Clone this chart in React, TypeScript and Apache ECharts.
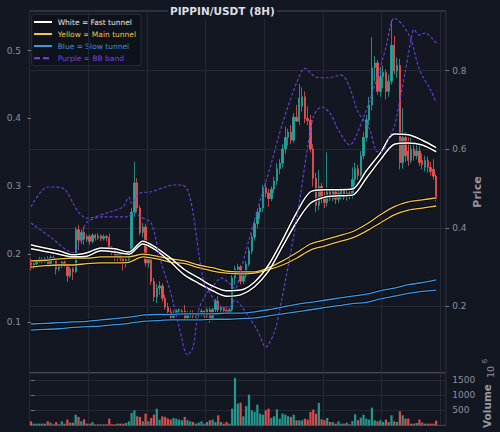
import React, { useEffect, useRef } from "react";
import * as echarts from "echarts";

// ---- data ----
// each candle: [open, high, low, close]
const OHLC: [number, number, number, number][] = [
  [0.188, 0.194, 0.176, 0.180], [0.180, 0.189, 0.178, 0.186], [0.186, 0.193, 0.183, 0.190], [0.190, 0.196, 0.187, 0.192],
  [0.192, 0.195, 0.186, 0.189], [0.189, 0.196, 0.187, 0.193], [0.193, 0.197, 0.184, 0.186], [0.186, 0.198, 0.185, 0.195],
  [0.195, 0.198, 0.189, 0.192], [0.192, 0.194, 0.170, 0.178], [0.178, 0.186, 0.175, 0.182], [0.182, 0.190, 0.179, 0.188],
  [0.188, 0.191, 0.181, 0.184], [0.184, 0.186, 0.159, 0.168], [0.168, 0.181, 0.165, 0.178], [0.178, 0.181, 0.162, 0.174],
  [0.174, 0.240, 0.172, 0.236], [0.236, 0.243, 0.206, 0.221], [0.221, 0.236, 0.215, 0.232], [0.232, 0.240, 0.214, 0.222],
  [0.222, 0.229, 0.218, 0.226], [0.226, 0.229, 0.214, 0.219], [0.219, 0.231, 0.216, 0.228], [0.228, 0.230, 0.220, 0.224],
  [0.224, 0.231, 0.221, 0.227], [0.227, 0.229, 0.219, 0.223], [0.223, 0.229, 0.220, 0.226], [0.226, 0.228, 0.219, 0.224],
  [0.224, 0.230, 0.205, 0.209], [0.209, 0.212, 0.198, 0.205], [0.205, 0.209, 0.190, 0.196], [0.196, 0.203, 0.188, 0.200],
  [0.200, 0.203, 0.186, 0.193], [0.193, 0.196, 0.176, 0.186], [0.186, 0.195, 0.180, 0.192], [0.192, 0.205, 0.188, 0.200],
  [0.200, 0.268, 0.198, 0.262], [0.262, 0.336, 0.255, 0.305], [0.305, 0.312, 0.262, 0.268], [0.268, 0.272, 0.228, 0.232],
  [0.232, 0.246, 0.225, 0.240], [0.240, 0.245, 0.182, 0.187], [0.187, 0.196, 0.180, 0.192], [0.192, 0.195, 0.155, 0.160],
  [0.160, 0.165, 0.130, 0.137], [0.137, 0.156, 0.128, 0.150], [0.150, 0.160, 0.140, 0.153], [0.153, 0.157, 0.130, 0.135],
  [0.135, 0.140, 0.118, 0.122], [0.122, 0.128, 0.110, 0.115], [0.115, 0.120, 0.103, 0.107], [0.107, 0.117, 0.104, 0.113],
  [0.113, 0.119, 0.109, 0.116], [0.116, 0.120, 0.111, 0.118], [0.112, 0.119, 0.109, 0.116], [0.116, 0.125, 0.103, 0.106],
  [0.106, 0.116, 0.103, 0.112], [0.112, 0.117, 0.107, 0.114], [0.114, 0.117, 0.105, 0.109], [0.109, 0.114, 0.106, 0.111],
  [0.111, 0.116, 0.107, 0.113], [0.113, 0.119, 0.108, 0.116], [0.116, 0.117, 0.105, 0.109], [0.109, 0.121, 0.106, 0.118],
  [0.118, 0.121, 0.099, 0.103], [0.103, 0.121, 0.101, 0.118], [0.118, 0.134, 0.114, 0.131], [0.131, 0.138, 0.114, 0.118],
  [0.118, 0.124, 0.112, 0.121], [0.121, 0.122, 0.113, 0.117], [0.117, 0.120, 0.111, 0.114], [0.114, 0.121, 0.111, 0.118],
  [0.118, 0.170, 0.114, 0.165], [0.165, 0.183, 0.155, 0.178], [0.178, 0.186, 0.170, 0.181], [0.181, 0.184, 0.155, 0.160],
  [0.160, 0.172, 0.156, 0.168], [0.168, 0.190, 0.165, 0.185], [0.185, 0.210, 0.182, 0.205], [0.205, 0.230, 0.200, 0.225],
  [0.225, 0.250, 0.220, 0.245], [0.245, 0.265, 0.238, 0.262], [0.262, 0.272, 0.252, 0.268], [0.268, 0.302, 0.262, 0.298],
  [0.298, 0.305, 0.284, 0.290], [0.290, 0.296, 0.270, 0.282], [0.282, 0.300, 0.278, 0.296], [0.296, 0.314, 0.290, 0.308],
  [0.308, 0.334, 0.302, 0.326], [0.326, 0.340, 0.318, 0.334], [0.334, 0.362, 0.328, 0.355], [0.355, 0.388, 0.348, 0.372],
  [0.372, 0.385, 0.360, 0.380], [0.380, 0.390, 0.362, 0.368], [0.368, 0.408, 0.364, 0.402], [0.402, 0.420, 0.395, 0.396],
  [0.396, 0.451, 0.390, 0.430], [0.418, 0.446, 0.410, 0.432], [0.432, 0.440, 0.393, 0.400], [0.400, 0.418, 0.390, 0.397],
  [0.397, 0.405, 0.350, 0.355], [0.355, 0.362, 0.300, 0.312], [0.312, 0.320, 0.262, 0.272], [0.272, 0.324, 0.265, 0.300],
  [0.300, 0.305, 0.275, 0.284], [0.284, 0.292, 0.268, 0.276], [0.276, 0.350, 0.270, 0.292], [0.292, 0.296, 0.278, 0.282],
  [0.282, 0.298, 0.278, 0.292], [0.292, 0.295, 0.274, 0.281], [0.281, 0.295, 0.276, 0.290], [0.286, 0.298, 0.281, 0.294],
  [0.294, 0.296, 0.280, 0.284], [0.284, 0.294, 0.279, 0.290], [0.290, 0.293, 0.281, 0.286], [0.286, 0.328, 0.282, 0.310],
  [0.310, 0.335, 0.300, 0.326], [0.326, 0.332, 0.310, 0.316], [0.316, 0.352, 0.312, 0.345], [0.345, 0.380, 0.340, 0.372],
  [0.372, 0.405, 0.366, 0.398], [0.398, 0.432, 0.390, 0.420], [0.420, 0.520, 0.412, 0.475], [0.475, 0.492, 0.455, 0.482],
  [0.482, 0.486, 0.435, 0.440], [0.440, 0.476, 0.432, 0.462], [0.462, 0.478, 0.445, 0.468], [0.468, 0.472, 0.428, 0.440],
  [0.440, 0.465, 0.432, 0.455], [0.455, 0.545, 0.450, 0.508], [0.508, 0.522, 0.465, 0.470], [0.470, 0.490, 0.460, 0.478],
  [0.478, 0.488, 0.325, 0.335], [0.335, 0.415, 0.326, 0.372], [0.372, 0.380, 0.336, 0.345], [0.352, 0.372, 0.330, 0.338],
  [0.338, 0.372, 0.334, 0.355], [0.355, 0.364, 0.338, 0.345], [0.345, 0.362, 0.340, 0.352], [0.352, 0.360, 0.330, 0.335],
  [0.338, 0.348, 0.325, 0.332], [0.328, 0.345, 0.322, 0.338], [0.338, 0.344, 0.320, 0.328], [0.328, 0.336, 0.316, 0.322],
  [0.325, 0.340, 0.310, 0.315], [0.315, 0.318, 0.278, 0.282],
];

// volume, in units of 10^6
const VOLUME: number[] = [
  133, 55, 55, 55, 55, 55, 133, 90, 33, 111,
  33, 133, 55, 190, 90, 90, 355, 280, 133, 200,
  55, 55, 111, 33, 33, 33, 33, 33, 222, 33,
  33, 55, 55, 55, 78, 133, 411, 500, 300, 278,
  133, 390, 133, 244, 355, 555, 190, 300, 278, 222,
  190, 244, 222, 190, 167, 278, 167, 133, 111, 55,
  90, 133, 55, 111, 167, 190, 111, 333, 111, 55,
  111, 55, 555, 1578, 722, 755, 300, 644, 1022, 500,
  444, 689, 389, 355, 500, 555, 244, 300, 533, 222,
  389, 355, 300, 278, 355, 167, 167, 167, 222, 190,
  444, 522, 389, 744, 200, 167, 244, 111, 111, 55,
  133, 55, 55, 90, 33, 144, 367, 167, 255, 355,
  222, 190, 589, 167, 133, 167, 111, 190, 111, 333,
  133, 111, 467, 333, 222, 222, 55, 55, 78, 190,
  90, 55, 55, 55, 55, 155,
];

// tunnel lines sampled at these candle indices
const TUNNEL_IDX: number[] = [
  0, 5, 10, 15, 20, 25, 30, 35, 40, 45, 50, 55, 60, 65, 70,
  75, 80, 85, 90, 95, 100, 105, 110, 115, 120, 125, 130, 135, 140, 145,
];
const WHITE_UP = [0.214, 0.209, 0.205, 0.199, 0.202, 0.209, 0.208, 0.203, 0.219, 0.209, 0.194, 0.177, 0.165, 0.153, 0.146, 0.147, 0.159, 0.184, 0.221, 0.261, 0.292, 0.295, 0.295, 0.296, 0.323, 0.349, 0.377, 0.376, 0.368, 0.357];
const WHITE_LO = [0.208, 0.204, 0.200, 0.196, 0.197, 0.205, 0.203, 0.200, 0.215, 0.205, 0.188, 0.169, 0.157, 0.146, 0.138, 0.140, 0.152, 0.175, 0.211, 0.247, 0.275, 0.284, 0.286, 0.287, 0.312, 0.339, 0.362, 0.364, 0.361, 0.351];
const YELLOW_UP = [0.190, 0.191, 0.193, 0.194, 0.194, 0.196, 0.196, 0.196, 0.200, 0.197, 0.193, 0.190, 0.184, 0.180, 0.175, 0.174, 0.174, 0.180, 0.190, 0.202, 0.215, 0.221, 0.227, 0.233, 0.244, 0.258, 0.270, 0.277, 0.280, 0.283];
const YELLOW_LO = [0.181, 0.183, 0.184, 0.184, 0.186, 0.187, 0.187, 0.188, 0.196, 0.193, 0.188, 0.186, 0.180, 0.175, 0.172, 0.171, 0.172, 0.177, 0.184, 0.194, 0.206, 0.212, 0.218, 0.224, 0.234, 0.246, 0.258, 0.265, 0.268, 0.271];
const BLUE_UP = [0.097, 0.098, 0.099, 0.100, 0.101, 0.103, 0.105, 0.107, 0.110, 0.111, 0.111, 0.112, 0.112, 0.112, 0.113, 0.113, 0.115, 0.118, 0.122, 0.126, 0.129, 0.132, 0.135, 0.138, 0.141, 0.146, 0.150, 0.155, 0.158, 0.162];
const BLUE_LO = [0.088, 0.089, 0.090, 0.092, 0.093, 0.094, 0.096, 0.098, 0.101, 0.102, 0.103, 0.103, 0.103, 0.104, 0.104, 0.105, 0.106, 0.109, 0.112, 0.115, 0.118, 0.121, 0.124, 0.127, 0.129, 0.134, 0.138, 0.142, 0.145, 0.147];

// Bollinger band lines: [candle index, value]
const BB_A: [number, number][] = [
  [0, 0.270], [6, 0.299], [11, 0.298], [17, 0.262], [20, 0.253], [28, 0.262], [33, 0.270], [35, 0.284],
  [36, 0.275], [39, 0.290], [43, 0.292], [48, 0.299], [51, 0.302], [54, 0.302], [56, 0.295], [58, 0.261],
  [60, 0.202], [62, 0.157], [64, 0.143], [66, 0.129], [68, 0.122], [71, 0.122], [73, 0.132], [75, 0.125],
  [78, 0.107], [81, 0.088], [84, 0.063], [87, 0.084], [89, 0.118], [95, 0.250], [101, 0.402], [104, 0.417],
  [107, 0.408], [110, 0.383], [114, 0.361], [119, 0.402], [124, 0.461], [127, 0.505], [130, 0.548], [133, 0.538],
  [136, 0.516], [139, 0.472], [143, 0.442], [145, 0.423],
];
const BB_B: [number, number][] = [
  [0, 0.246], [7, 0.225], [15, 0.202], [18, 0.224], [20, 0.247], [26, 0.255], [34, 0.255], [37, 0.261],
  [39, 0.255], [43, 0.246], [46, 0.196], [50, 0.143], [53, 0.093], [56, 0.051], [58, 0.063], [60, 0.118],
  [63, 0.143], [66, 0.157], [68, 0.165], [71, 0.157], [73, 0.149], [75, 0.174], [77, 0.206], [81, 0.265],
  [86, 0.334], [90, 0.393], [95, 0.452], [98, 0.474], [102, 0.461], [106, 0.460], [111, 0.464], [114, 0.446],
  [117, 0.410], [121, 0.386], [124, 0.351], [126, 0.352], [128, 0.370], [130, 0.388], [132, 0.427], [134, 0.471],
  [136, 0.516], [137, 0.531], [139, 0.523], [141, 0.526], [145, 0.511],
];

const LEFT_TICKS = [0.1, 0.2, 0.3, 0.4, 0.5];
const RIGHT_TICKS = [0.2, 0.4, 0.6, 0.8];
const VOL_TICKS = [500, 1000, 1500];
const TITLE = "PIPPIN/USDT (8H)";
const LEGEND_LABELS = ["White = Fast tunnel", "Yellow = Main tunnel", "Blue = Slow tunnel", "Purple = BB band"];

// ---- styles ----
const BG = "#131722";
const UP = "#26a69a";
const DOWN = "#ef5350";
const WHITE = "#ffffff";
const YELLOW = "#f5c542";
const BLUE = "#3a97e6";
const PURPLE = "#6a42dc";
const GRIDLINE = "#242935";
const SPINE = "#4a4e59";
const TICKTXT = "#8c909b";
const FONT = "DejaVu Sans";

const LEGEND_STYLE = [
  { line: WHITE, text: "#e8e8e8", dash: null as number[] | null },
  { line: YELLOW, text: "#f2c23a", dash: null },
  { line: BLUE, text: "#3b8fd9", dash: null },
  { line: "#7446e6", text: "#7446e0", dash: [6, 3] },
];

function roundTo(v: number, d: number) {
  const p = Math.pow(10, d);
  return Math.round(v * p) / p;
}

export default function App() {
  const ref = useRef<HTMLDivElement>(null);

  useEffect(() => {
    if (!ref.current) return;
    const chart = echarts.init(ref.current, undefined, { renderer: "svg" });

    const candleData = OHLC.map(([o, h, l, c], i) => [i, o, c, l, h]);
    const volData = VOLUME.map((v, i) => {
      const [o, , , c] = OHLC[i];
      return { value: [i, v], itemStyle: { color: c >= o ? UP : DOWN, opacity: 0.9 } };
    });
    const pairs = (arr: number[]) => TUNNEL_IDX.map((x, k) => [x, arr[k]]);

    const tunnel = (name: string, arr: number[], color: string, width: number) => [
      {
        name: name + "-outline",
        type: "line",
        xAxisIndex: 0,
        yAxisIndex: 0,
        data: pairs(arr),
        showSymbol: false,
        smooth: 0.3,
        silent: true,
        z: 3,
        lineStyle: { color: "rgba(0,0,0,0.8)", width: width + 1.8 },
      },
      {
        name,
        type: "line",
        xAxisIndex: 0,
        yAxisIndex: 0,
        data: pairs(arr),
        showSymbol: false,
        smooth: 0.3,
        silent: true,
        z: 4,
        lineStyle: { color, width },
      },
    ];

    const bb = (name: string, data: [number, number][]) => ({
      name,
      type: "line",
      xAxisIndex: 0,
      yAxisIndex: 0,
      data,
      showSymbol: false,
      smooth: 0.3,
      silent: true,
      z: 5,
      lineStyle: { color: PURPLE, width: 1.1, type: [3, 2] },
    });

    const xAxisBase = {
      type: "value",
      min: -0.54,
      max: 148.4,
      interval: 21,
      axisLine: { show: false },
      axisTick: { show: false },
      axisLabel: { show: false },
      splitLine: { show: true, lineStyle: { color: GRIDLINE, width: 1 } },
    };

    const labelBase = { color: TICKTXT, fontFamily: FONT, fontSize: 9 };
    const tickBase = { show: true, length: 3.5, lineStyle: { color: TICKTXT, width: 0.8 } };

    const legendChildren: any[] = [
      {
        type: "rect",
        shape: { x: 31.7, y: 14.3, width: 109.3, height: 51.4, r: 2 },
        style: { fill: "#0e121a", stroke: "#2e323d", lineWidth: 0.8 },
      },
    ];
    const rowY = [22, 34, 46, 58.2];
    LEGEND_LABELS.forEach((label, k) => {
      const st = LEGEND_STYLE[k];
      legendChildren.push({
        type: "line",
        shape: { x1: 34, y1: rowY[k], x2: 52, y2: rowY[k] },
        style: { stroke: st.line, lineWidth: 2, lineDash: st.dash || undefined },
      });
      legendChildren.push({
        type: "text",
        x: 57.7,
        y: rowY[k],
        style: {
          text: label,
          fill: st.text,
          fontSize: 7.5,
          fontFamily: FONT,
          align: "left",
          verticalAlign: "middle",
        },
      });
    });

    const option: any = {
      animation: false,
      backgroundColor: BG,
      grid: [
        { left: 29.5, right: 54.3, top: 11, height: 361.7, show: true, borderColor: SPINE, borderWidth: 1, backgroundColor: "transparent" },
        { left: 29.5, right: 54.3, top: 372.7, height: 52.6, show: true, borderColor: SPINE, borderWidth: 1, backgroundColor: "transparent" },
      ],
      xAxis: [
        { ...xAxisBase, gridIndex: 0 },
        { ...xAxisBase, gridIndex: 1 },
      ],
      yAxis: [
        {
          type: "value",
          gridIndex: 0,
          position: "left",
          min: 0.0252,
          max: 0.5585,
          axisLine: { show: false },
          axisTick: { ...tickBase, customValues: LEFT_TICKS },
          axisLabel: {
            ...labelBase,
            margin: 8.5,
            customValues: LEFT_TICKS,
            formatter: (v: number) => (LEFT_TICKS.some((t) => Math.abs(t - v) < 1e-6) ? String(roundTo(v, 1)) : ""),
          },
          splitLine: { show: false },
        },
        {
          type: "value",
          gridIndex: 0,
          position: "right",
          min: 0.031,
          max: 0.952,
          axisLine: { show: false },
          axisTick: { ...tickBase, customValues: RIGHT_TICKS },
          axisLabel: {
            ...labelBase,
            margin: 6.5,
            customValues: RIGHT_TICKS,
            formatter: (v: number) => (RIGHT_TICKS.some((t) => Math.abs(t - v) < 1e-6) ? String(roundTo(v, 1)) : ""),
          },
          splitLine: { show: true, lineStyle: { color: GRIDLINE, width: 1 } },
        },
        {
          type: "value",
          gridIndex: 1,
          position: "right",
          min: 0,
          max: 1753,
          axisLine: { show: false },
          axisTick: { ...tickBase, customValues: VOL_TICKS },
          axisLabel: {
            ...labelBase,
            margin: 6.5,
            customValues: VOL_TICKS,
            formatter: (v: number) => (VOL_TICKS.indexOf(Math.round(v)) >= 0 ? String(Math.round(v)) : ""),
          },
          splitLine: { show: true, lineStyle: { color: GRIDLINE, width: 1 } },
        },
      ],
      series: [
        {
          name: "candles",
          type: "candlestick",
          xAxisIndex: 0,
          yAxisIndex: 0,
          data: candleData,
          encode: { x: 0, y: [1, 2, 3, 4] },
          barWidth: 1.9,
          silent: true,
          z: 2,
          itemStyle: { color: UP, color0: DOWN, borderColor: UP, borderColor0: DOWN, borderWidth: 0.8 },
        },
        ...tunnel("Blue upper", BLUE_UP, BLUE, 1.3),
        ...tunnel("Blue lower", BLUE_LO, BLUE, 1.3),
        ...tunnel("Yellow upper", YELLOW_UP, YELLOW, 1.3),
        ...tunnel("Yellow lower", YELLOW_LO, YELLOW, 1.3),
        ...tunnel("White upper", WHITE_UP, WHITE, 1.5),
        ...tunnel("White lower", WHITE_LO, WHITE, 1.5),
        bb("BB A", BB_A),
        bb("BB B", BB_B),
        {
          name: "Volume",
          type: "bar",
          xAxisIndex: 1,
          yAxisIndex: 2,
          data: volData,
          barWidth: 2.2,
          silent: true,
        },
      ],
      graphic: [
        {
          type: "text",
          x: 168,
          y: 11,
          z: 100,
          style: {
            text: TITLE,
            fill: "#dcdee3",
            fontSize: 10.5,
            fontWeight: "bold",
            fontFamily: FONT,
            align: "left",
            verticalAlign: "middle",
            backgroundColor: BG,
            padding: [2, 2],
          },
        },
        { type: "group", z: 100, children: legendChildren },
        {
          type: "text",
          x: 477,
          y: 192,
          rotation: Math.PI / 2,
          z: 100,
          style: { text: "Price", fill: "#9598a1", fontSize: 11, fontWeight: "bold", fontFamily: FONT, align: "center", verticalAlign: "middle" },
        },
        {
          type: "text",
          x: 487,
          y: 406,
          rotation: Math.PI / 2,
          z: 100,
          style: { text: "Volume", fill: "#9598a1", fontSize: 10.5, fontWeight: "bold", fontFamily: FONT, align: "center", verticalAlign: "middle" },
        },
        {
          type: "text",
          x: 490,
          y: 372,
          rotation: Math.PI / 2,
          z: 100,
          style: { text: "10", fill: TICKTXT, fontSize: 9.5, fontFamily: FONT, align: "center", verticalAlign: "middle" },
        },
        {
          type: "text",
          x: 484.5,
          y: 361,
          rotation: Math.PI / 2,
          z: 100,
          style: { text: "6", fill: TICKTXT, fontSize: 7, fontFamily: FONT, align: "center", verticalAlign: "middle" },
        },
      ],
    };

    chart.setOption(option);
    return () => chart.dispose();
  }, []);

  return (
    <div
      ref={ref}
      style={{ position: "fixed", left: 0, top: 0, width: 500, height: 432, background: BG }}
    />
  );
}
